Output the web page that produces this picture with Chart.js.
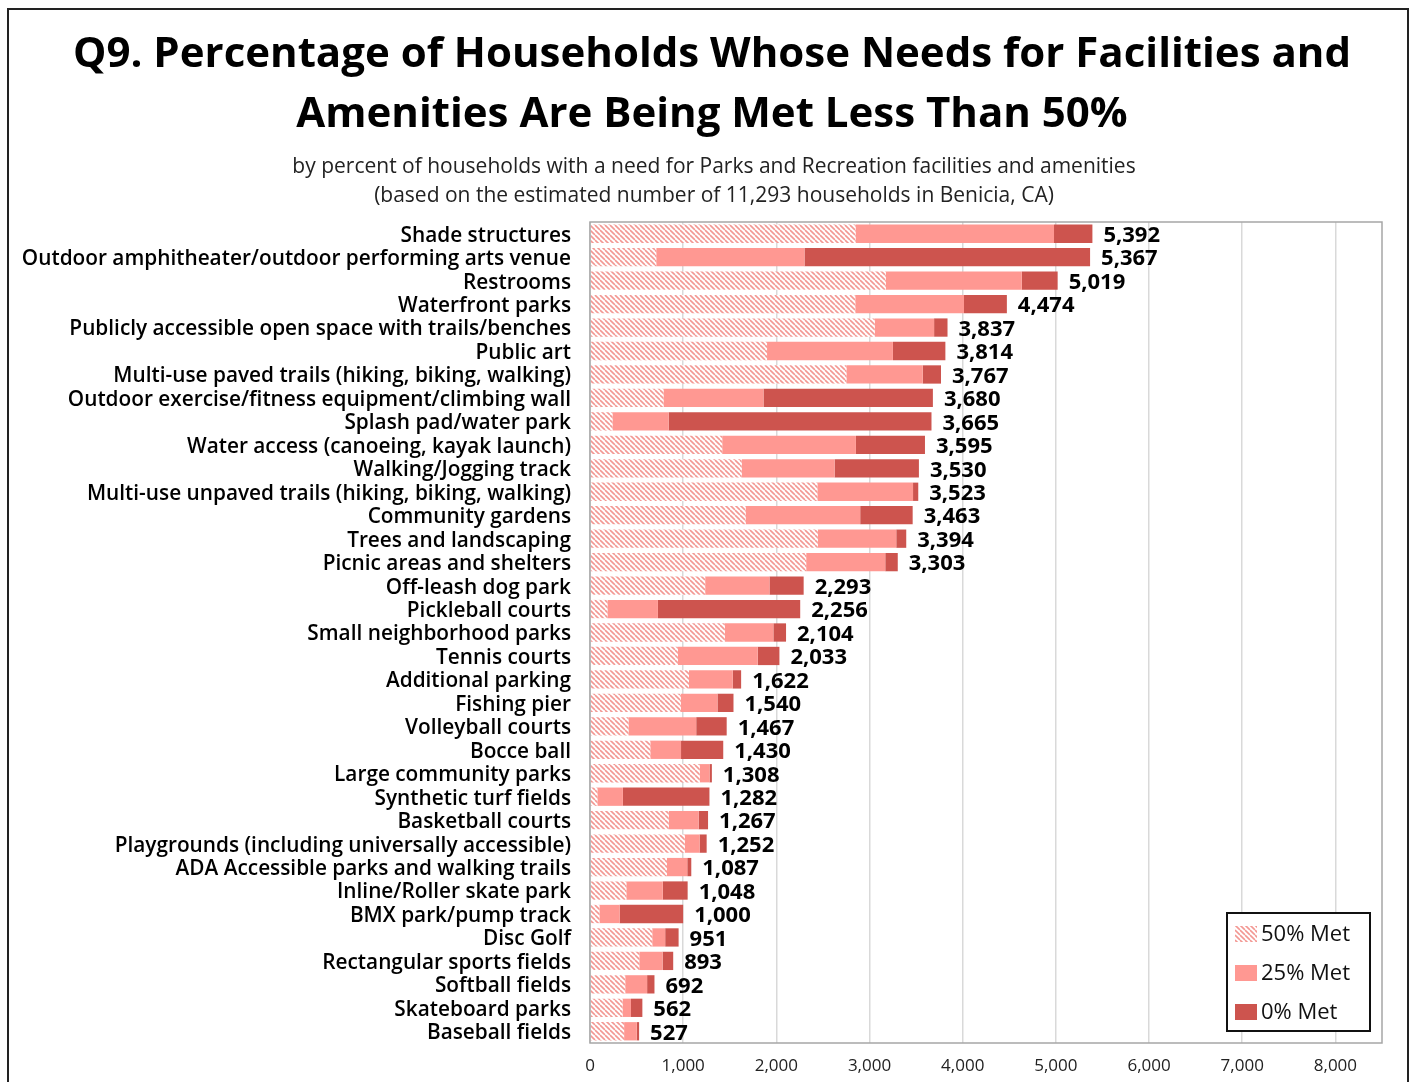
<!DOCTYPE html>
<html>
<head>
<meta charset="utf-8">
<script src="https://cdn.jsdelivr.net/npm/chart.js@4.4.1/dist/chart.umd.min.js"></script>
<style>
  body { margin: 0; background: #fff; }
  #wrap { width: 1416px; height: 1082px; position: relative; }
</style>
</head>
<body>
<div id="wrap"><canvas id="chart"></canvas></div>
<script>
// Categories (top to bottom)
const categories = [
  'Shade structures',
  'Outdoor amphitheater/outdoor performing arts venue',
  'Restrooms',
  'Waterfront parks',
  'Publicly accessible open space with trails/benches',
  'Public art',
  'Multi-use paved trails (hiking, biking, walking)',
  'Outdoor exercise/fitness equipment/climbing wall',
  'Splash pad/water park',
  'Water access (canoeing, kayak launch)',
  'Walking/Jogging track',
  'Multi-use unpaved trails (hiking, biking, walking)',
  'Community gardens',
  'Trees and landscaping',
  'Picnic areas and shelters',
  'Off-leash dog park',
  'Pickleball courts',
  'Small neighborhood parks',
  'Tennis courts',
  'Additional parking',
  'Fishing pier',
  'Volleyball courts',
  'Bocce ball',
  'Large community parks',
  'Synthetic turf fields',
  'Basketball courts',
  'Playgrounds (including universally accessible)',
  'ADA Accessible parks and walking trails',
  'Inline/Roller skate park',
  'BMX park/pump track',
  'Disc Golf',
  'Rectangular sports fields',
  'Softball fields',
  'Skateboard parks',
  'Baseball fields'
];

// Households whose needs are 50% met
const met50 = [2850, 711, 3174, 2847, 3056, 1900, 2752, 789, 241, 1419,
  1628, 2440, 1670, 2445, 2320, 1236, 187, 1447, 943, 1062,
  974, 413, 647, 1178, 79, 845, 1017, 826, 390, 101,
  668, 529, 378, 349, 366];

// Households whose needs are 25% met
const met25 = [2130, 1591, 1460, 1167, 637, 1351, 819, 1073, 603, 1435,
  997, 1027, 1230, 842, 849, 690, 542, 521, 857, 470,
  394, 727, 330, 105, 274, 321, 159, 218, 391, 217,
  139, 250, 235, 91, 136];

// Households whose needs are 0% met
const met0 = [412, 3065, 385, 460, 144, 563, 196, 1818, 2821, 741,
  905, 56, 563, 107, 134, 367, 1527, 136, 233, 90,
  172, 327, 453, 25, 929, 101, 76, 43, 267, 682,
  144, 114, 79, 122, 25];

// Total households with a need (bar labels)
const totals = [5392, 5367, 5019, 4474, 3837, 3814, 3767, 3680, 3665, 3595,
  3530, 3523, 3463, 3394, 3303, 2293, 2256, 2104, 2033, 1622,
  1540, 1467, 1430, 1308, 1282, 1267, 1252, 1087, 1048, 1000,
  951, 893, 692, 562, 527];

// x axis tick values
const xTicks = [0, 1000, 2000, 3000, 4000, 5000, 6000, 7000, 8000];

const titleLines = [
  'Q9. Percentage of Households Whose Needs for Facilities and',
  'Amenities Are Being Met Less Than 50%'
];
const subtitleLines = [
  'by percent of households with a need for Parks and Recreation facilities and amenities',
  '(based on the estimated number of 11,293 households in Benicia, CA)'
];

const FONT = "'Open Sans', 'Noto Sans', sans-serif";
const color25 = 'rgb(255,152,146)';
const color0 = 'rgb(205,84,78)';

// hatched fill for the 50% series
function makeHatch() {
  const s = 5;
  const pc = document.createElement('canvas');
  pc.width = s; pc.height = s;
  const c = pc.getContext('2d');
  c.fillStyle = '#fff';
  c.fillRect(0, 0, s, s);
  c.strokeStyle = 'rgb(243,152,147)';
  c.lineWidth = 1.6;
  for (let x = -s; x <= s; x += s) {
    c.beginPath();
    c.moveTo(x, 0);
    c.lineTo(x + s, s);
    c.stroke();
  }
  return c.createPattern(pc, 'repeat');
}
const hatch = makeHatch();

// draws title, frame, plot border, totals and legend
const extras = {
  id: 'extras',
  beforeDraw(chart) {
    const ctx = chart.ctx;
    ctx.save();
    ctx.fillStyle = '#fff';
    ctx.fillRect(0, 0, chart.width, chart.height);
    ctx.restore();
  },
  afterDraw(chart) {
    const ctx = chart.ctx;
    const area = chart.chartArea;
    ctx.save();

    // outer frame
    ctx.strokeStyle = '#222';
    ctx.lineWidth = 2;
    ctx.strokeRect(8, 9, 1400, 1090);

    // plot border
    ctx.strokeStyle = '#a6a6a6';
    ctx.lineWidth = 1.5;
    ctx.strokeRect(area.left, area.top, area.right - area.left, area.bottom - area.top);

    // titles
    ctx.fillStyle = '#000';
    ctx.textAlign = 'center';
    ctx.textBaseline = 'middle';
    ctx.font = 'bold 42px ' + FONT;
    ctx.fillText(titleLines[0], 712, 55);
    ctx.fillText(titleLines[1], 712, 115);
    ctx.fillStyle = '#222';
    ctx.font = '21px ' + FONT;
    ctx.fillText(subtitleLines[0], 714, 167);
    ctx.fillText(subtitleLines[1], 714, 196);

    // totals at bar ends
    const xs = chart.scales.x;
    const ys = chart.scales.y;
    ctx.fillStyle = '#000';
    ctx.textAlign = 'left';
    ctx.font = 'bold 22px ' + FONT;
    totals.forEach((t, i) => {
      ctx.fillText(t.toLocaleString('en-US'), xs.getPixelForValue(t) + 11, ys.getPixelForValue(i) + 2);
    });

    // legend
    const lx = 1227, ly = 913, lw = 143, lh = 118;
    ctx.fillStyle = '#fff';
    ctx.fillRect(lx, ly, lw, lh);
    ctx.strokeStyle = '#111';
    ctx.lineWidth = 2;
    ctx.strokeRect(lx, ly, lw, lh);
    const items = [['50% Met', hatch], ['25% Met', color25], ['0% Met', color0]];
    ctx.font = '22px ' + FONT;
    ctx.textBaseline = 'middle';
    items.forEach((it, i) => {
      const cy = ly + 21 + i * 39;
      ctx.fillStyle = it[1];
      ctx.fillRect(lx + 8, cy - 8, 22, 16);
      ctx.fillStyle = '#111';
      ctx.fillText(it[0], lx + 34, cy + 1);
    });
    ctx.restore();
  }
};

new Chart(document.getElementById('chart'), {
  type: 'bar',
  data: {
    labels: categories,
    datasets: [
      { label: '50% Met', data: met50, backgroundColor: hatch },
      { label: '25% Met', data: met25, backgroundColor: color25 },
      { label: '0% Met', data: met0, backgroundColor: color0 }
    ]
  },
  options: {
    indexAxis: 'y',
    responsive: true,
    maintainAspectRatio: false,
    animation: false,
    datasets: {
      bar: { categoryPercentage: 1, barPercentage: 0.78, borderWidth: 0 }
    },
    layout: { padding: { top: 222, right: 34, bottom: 0, left: 0 } },
    plugins: {
      legend: { display: false },
      title: { display: false },
      tooltip: { enabled: false }
    },
    scales: {
      x: {
        stacked: true,
        min: 0,
        max: 8500,
        afterBuildTicks: (scale) => { scale.ticks = xTicks.map(v => ({ value: v })); },
        afterFit: (scale) => { scale.height = 39; },
        border: { display: false },
        grid: { color: '#d9d9d9', lineWidth: 1.5, drawTicks: false },
        ticks: {
          padding: 13,
          color: '#222',
          font: { family: FONT, size: 17 },
          callback: (v) => Number(v).toLocaleString('en-US')
        }
      },
      y: {
        stacked: true,
        afterFit: (scale) => { scale.width = 590; },
        border: { display: false },
        grid: { display: false, drawTicks: false },
        ticks: {
          padding: 19,
          labelOffset: 2,
          color: '#000',
          autoSkip: false,
          font: { family: FONT, size: 20.8, weight: '600' }
        }
      }
    }
  },
  plugins: [extras]
});
</script>
</body>
</html>
